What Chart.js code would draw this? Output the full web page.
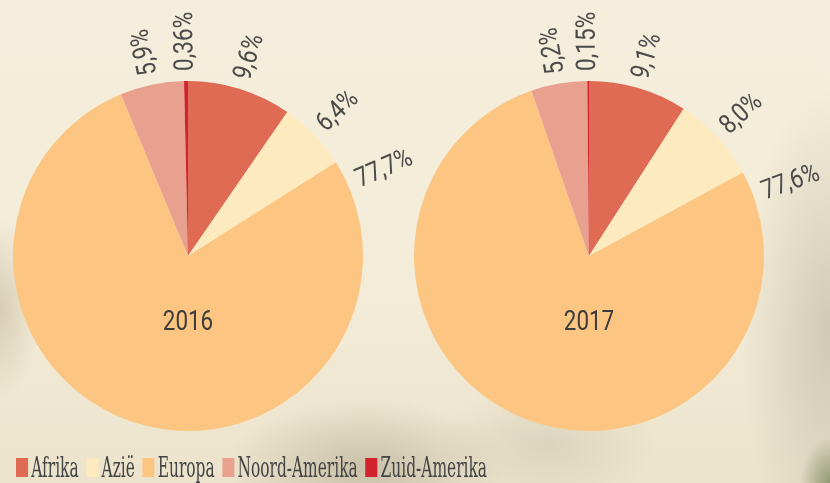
<!DOCTYPE html>
<html>
<head>
<meta charset="utf-8">
<script src="https://cdn.jsdelivr.net/npm/chart.js@4/dist/chart.umd.min.js"></script>
<style>
  html, body { margin: 0; padding: 0; }
  body {
    width: 830px; height: 483px; overflow: hidden; position: relative;
    background:
      radial-gradient(ellipse 30px 45px at 100% 100%, rgba(90,110,60,0.6), rgba(90,110,60,0) 100%),
      radial-gradient(ellipse 140px 70px at 44% 97%, rgba(150,140,118,0.40), rgba(150,140,118,0) 100%),
      radial-gradient(ellipse 110px 60px at 66% 92%, rgba(170,160,140,0.25), rgba(170,160,140,0) 100%),
      radial-gradient(ellipse 90px 240px at 100% 68%, rgba(175,168,150,0.50), rgba(175,168,150,0) 100%),
      radial-gradient(ellipse 40px 90px at 0% 64%, rgba(175,160,130,0.40), rgba(175,160,130,0) 100%),
      linear-gradient(180deg, #f5eedc 0%, #f3ecd8 60%, #ece3cc 100%);
  }
  .pie { position: absolute; top: 0; height: 483px; }
  #c2016 { left: 0; width: 415px; }
  #c2017 { left: 400px; width: 430px; }
  #legend {
    position: absolute; left: 16px; top: 453px;
    font-family: "DejaVu Serif Condensed", "DejaVu Serif", serif;
    font-stretch: condensed;
    font-size: 27px; line-height: 30px; color: #444; white-space: nowrap;
    transform: scaleX(0.635); transform-origin: 0 0;
  }
  #legend span.item { display: inline-block; margin-right: 12px; }
  #legend span.box { display: inline-block; width: 19px; height: 19px; vertical-align: baseline; margin-right: 5px; }
</style>
</head>
<body>
<canvas id="c2016" class="pie" width="415" height="483"></canvas>
<canvas id="c2017" class="pie" width="430" height="483"></canvas>
<div id="legend"></div>
<script>
// categories and colours
const regions = ['Afrika', 'Azië', 'Europa', 'Noord-Amerika', 'Zuid-Amerika'];
const regionColors = ['#df6b54', '#feeabf', '#fcc682', '#e8a18e', '#d2222d'];

// shares in percent, per year
const years = ['2016', '2017'];
const values2016 = [9.6, 6.4, 77.7, 5.9, 0.36];
const values2017 = [9.1, 8.0, 77.6, 5.2, 0.15];
const labels2016 = ['9,6%', '6,4%', '77,7%', '5,9%', '0,36%'];
const labels2017 = ['9,1%', '8,0%', '77,6%', '5,2%', '0,15%'];

// draws the rotated percentage labels and the year in the middle
const pieText = {
  id: 'pieText',
  afterDatasetsDraw(chart, args, opts) {
    const ctx = chart.ctx;
    const arcs = chart.getDatasetMeta(0).data;
    ctx.save();
    ctx.fillStyle = '#4a4a4a';
    ctx.font = '27px Roboto';
    ctx.textBaseline = 'middle';
    ctx.textAlign = 'left';
    arcs.forEach((arc, i) => {
      const p = arc.getProps(['x', 'y', 'startAngle', 'endAngle', 'outerRadius'], true);
      let a = (p.startAngle + p.endAngle) / 2;
      // big slice: label sits near its start instead of the middle
      if (p.endAngle - p.startAngle > Math.PI) a = p.startAngle + 0.15;
      ctx.save();
      ctx.translate(p.x, p.y);
      ctx.rotate(a);
      ctx.scale(0.84, 1);
      ctx.fillText(opts.labels[i], (p.outerRadius + 10) / 0.84, 0);
      ctx.restore();
    });
    const c = arcs[0];
    ctx.font = '28px Roboto';
    ctx.textAlign = 'center';
    ctx.fillStyle = '#3c3c3c';
    ctx.translate(c.x, c.y + 67);
    ctx.scale(0.8, 1);
    ctx.fillText(opts.year, 0, 0);
    ctx.restore();
  }
};

function makePie(id, values, labels, year, pad) {
  new Chart(document.getElementById(id), {
    type: 'pie',
    data: {
      labels: regions,
      datasets: [{
        data: values,
        backgroundColor: regionColors,
        borderWidth: 0
      }]
    },
    options: {
      responsive: false,
      animation: false,
      layout: { padding: pad },
      plugins: {
        legend: { display: false },
        tooltip: { enabled: false },
        pieText: { labels: labels, year: year }
      }
    },
    plugins: [pieText]
  });
}

makePie('c2016', values2016, labels2016, years[0], { left: 13, right: 52, top: 81, bottom: 52 });
makePie('c2017', values2017, labels2017, years[1], { left: 14, right: 66, top: 81, bottom: 52 });

// legend built from the same arrays
const legend = document.getElementById('legend');
regions.forEach((name, i) => {
  const item = document.createElement('span');
  item.className = 'item';
  const box = document.createElement('span');
  box.className = 'box';
  box.style.background = regionColors[i];
  item.appendChild(box);
  item.appendChild(document.createTextNode(name));
  legend.appendChild(item);
});
</script>
</body>
</html>
